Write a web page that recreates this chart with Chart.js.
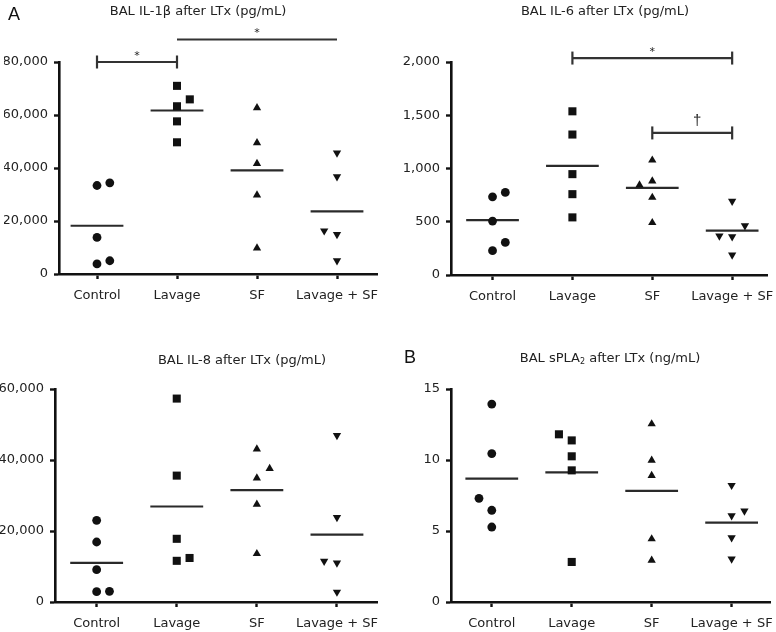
<!DOCTYPE html>
<html>
<head>
<meta charset="utf-8">
<script src="https://cdn.jsdelivr.net/npm/chart.js@4.4.1/dist/chart.umd.min.js"></script>
<style>
  html, body { margin: 0; padding: 0; background: #fff; }
  #wrap { position: relative; width: 776px; height: 632px; overflow: hidden; }
  canvas { position: absolute; left: 0; top: 0; }
  .ttl { position: absolute; font-family: "DejaVu Sans", sans-serif; font-size: 13px; color: #222; white-space: nowrap; transform: translateX(-50%); line-height: 15px; }
  .ttl sub { font-size: 8px; vertical-align: -2px; line-height: 0; }
  .lbl { position: absolute; font-family: "Liberation Sans", Arial, sans-serif; font-size: 18px; color: #111; line-height: 18px; }
</style>
</head>
<body>
<div id="wrap">
  <canvas id="c1" width="776" height="632"></canvas>
  <canvas id="c2" width="776" height="632"></canvas>
  <canvas id="c3" width="776" height="632"></canvas>
  <canvas id="c4" width="776" height="632"></canvas>
  <div class="lbl" style="left:8px;top:5px;">A</div>
  <div class="lbl" style="left:404px;top:348px;">B</div>
  <div class="ttl" style="left:198px;top:3px;">BAL IL-1β after LTx (pg/mL)</div>
  <div class="ttl" style="left:605px;top:3px;">BAL IL-6 after LTx (pg/mL)</div>
  <div class="ttl" style="left:242px;top:352px;">BAL IL-8 after LTx (pg/mL)</div>
  <div class="ttl" style="left:610px;top:350px;">BAL sPLA<sub>2</sub> after LTx (ng/mL)</div>
</div>
<script>
// ---------- categories ----------
const groups = ['Control', 'Lavage', 'SF', 'Lavage + SF'];

// ---------- IL-1β (pg/mL) ----------
const il1bControl = [33400, 34400, 13800, 3800, 5000];
const il1bLavage = [71000, 65900, 63300, 57600, 49700];
const il1bSF = [62700, 49500, 41700, 29800, 9800];
const il1bLavageSF = [45700, 36700, 16300, 14900, 5000];
const il1bMeans = [18200, 61700, 39100, 23600];
const il1bSide = [[0, 1, 0, 0, 1], [0, 1, 0, 0, 0], [0, 0, 0, 0, 0], [0, 0, -1, 0, 0]];
const il1bTicks = [0, 20000, 40000, 60000, 80000];
const il1bBrackets = [[0, 1, 80000, '*'], [1, 3, 88500, '*']];

// ---------- IL-6 (pg/mL) ----------
const il6Control = [734, 775, 506, 306, 228];
const il6Lavage = [1537, 1319, 947, 759, 541];
const il6SF = [1078, 881, 844, 728, 491];
const il6LavageSF = [694, 463, 366, 359, 188];
const il6Means = [516, 1025, 819, 416];
const il6Side = [[0, 1, 0, 1, 0], [0, 0, 0, 0, 0], [0, 0, -1, 0, 0], [0, 1, -1, 0, 0]];
const il6Ticks = [0, 500, 1000, 1500, 2000];
const il6Brackets = [[1, 3, 2037, '*'], [2, 3, 1334, '†']];

// ---------- IL-8 (pg/mL) ----------
const il8Control = [23000, 16900, 9100, 2900, 3000];
const il8Lavage = [57300, 35600, 17800, 12400, 11600];
const il8SF = [43100, 37600, 34900, 27500, 13600];
const il8LavageSF = [46900, 23800, 11500, 11000, 2800];
const il8Means = [11000, 26900, 31500, 19000];
const il8Side = [[0, 0, 0, 0, 1], [0, 0, 0, 1, 0], [0, 1, 0, 0, 0], [0, 0, -1, 0, 0]];
const il8Ticks = [0, 20000, 40000, 60000];
const il8Brackets = [];

// ---------- sPLA2 (ng/mL) ----------
const splaControl = [13.94, 10.45, 7.30, 6.46, 5.28];
const splaLavage = [11.81, 11.38, 10.26, 9.27, 2.82];
const splaSF = [12.54, 9.98, 8.90, 4.44, 2.93];
const splaLavageSF = [8.22, 6.41, 6.08, 4.53, 3.03];
const splaMeans = [8.69, 9.13, 7.82, 5.59];
const splaSide = [[0, 0, -1, 0, 0], [-1, 0, 0, 0, 0], [0, 0, 0, 0, 0], [0, 1, 0, 0, 0]];
const splaTicks = [0, 5, 10, 15];
const splaBrackets = [];

// ---------- styling ----------
const INK = '#111';
const FONT = { family: '"DejaVu Sans", sans-serif', size: 13 };
const JITTER = 0.16;
const MEAN_HALF = 0.33;
const markerStyle = ['circle', 'rect', 'triangle', 'triangle'];
const markerRot = [0, 0, 0, 180];
const markerRadius = [4.4, 5.7, 4.8, 4.8];

const bracketTextPlugin = {
  id: 'bracketText',
  afterDatasetsDraw(chart, args, opts) {
    const { ctx } = chart;
    const xs = chart.scales.x, ys = chart.scales.y;
    (opts.brackets || []).forEach(b => {
      const xm = (xs.getPixelForValue(b[0]) + xs.getPixelForValue(b[1])) / 2;
      const y = ys.getPixelForValue(b[2]);
      ctx.save();
      ctx.fillStyle = '#222';
      ctx.textAlign = 'center';
      ctx.textBaseline = 'alphabetic';
      if (b[3] === '*') {
        ctx.font = '11px "DejaVu Sans", sans-serif';
        ctx.fillText(b[3], xm, y - 3);
      } else {
        ctx.font = '15px "Liberation Sans", sans-serif';
        ctx.fillText(b[3], xm + 5, y - 8);
      }
      ctx.restore();
    });
  }
};

function makePanel(id, area, xMin, xMax, ticks, values, sides, means, brackets) {
  const yw = 55, xh = 30;
  const datasets = [];
  values.forEach((vals, g) => {
    datasets.push({
      type: 'scatter',
      data: vals.map((v, i) => ({ x: g + sides[g][i] * JITTER, y: v })),
      pointStyle: markerStyle[g],
      rotation: markerRot[g],
      pointRadius: markerRadius[g],
      backgroundColor: INK,
      borderColor: INK,
      borderWidth: 0,
      showLine: false,
      clip: false
    });
  });
  means.forEach((m, g) => {
    datasets.push({
      type: 'line',
      data: [{ x: g - MEAN_HALF, y: m }, { x: g + MEAN_HALF, y: m }],
      borderColor: '#2a2a2a',
      borderWidth: 2.2,
      pointRadius: 0,
      showLine: true,
      clip: false
    });
  });
  brackets.forEach(b => {
    datasets.push({
      type: 'line',
      data: [{ x: b[0], y: b[2] }, { x: b[1], y: b[2] }],
      borderColor: '#333',
      borderWidth: 2.2,
      pointStyle: 'line',
      rotation: 90,
      pointRadius: 6.5,
      pointBorderWidth: 2.2,
      pointBorderColor: '#333',
      showLine: true,
      clip: false
    });
  });
  return new Chart(document.getElementById(id), {
    type: 'scatter',
    data: { datasets },
    plugins: [bracketTextPlugin],
    options: {
      responsive: false,
      devicePixelRatio: 1,
      animation: false,
      layout: { padding: { left: area.L - yw, top: area.T, right: 776 - area.R, bottom: 632 - area.B - xh } },
      plugins: { legend: { display: false }, tooltip: { enabled: false }, bracketText: { brackets } },
      scales: {
        x: {
          type: 'linear', min: xMin, max: xMax,
          afterBuildTicks: s => { s.ticks = groups.map((_, i) => ({ value: i })); },
          afterFit: s => { s.height = xh; s.paddingLeft = 0; s.paddingRight = 0; },
          ticks: { callback: v => groups[v], font: FONT, color: '#222', padding: 9, autoSkip: false, maxRotation: 0 },
          grid: { drawOnChartArea: false, drawTicks: true, tickLength: 5, tickWidth: 2.4, tickColor: INK },
          border: { display: true, width: 2.6, color: INK }
        },
        y: {
          min: ticks[0], max: ticks[ticks.length - 1],
          afterBuildTicks: s => { s.ticks = ticks.map(v => ({ value: v })); },
          afterFit: s => { s.width = yw; s.paddingTop = 0; s.paddingBottom = 0; },
          ticks: { callback: v => v.toLocaleString('en-US'), font: FONT, color: '#222', padding: 6 },
          grid: { drawOnChartArea: false, drawTicks: true, tickLength: 5, tickWidth: 2.4, tickColor: INK },
          border: { display: true, width: 2.6, color: INK }
        }
      }
    }
  });
}

makePanel('c1', { L: 59, T: 62, R: 377, B: 274 }, -0.475, 3.5, il1bTicks,
  [il1bControl, il1bLavage, il1bSF, il1bLavageSF], il1bSide, il1bMeans, il1bBrackets);
makePanel('c2', { L: 451, T: 62, R: 768, B: 275 }, -0.52, 3.44, il6Ticks,
  [il6Control, il6Lavage, il6SF, il6LavageSF], il6Side, il6Means, il6Brackets);
makePanel('c3', { L: 55, T: 389, R: 377, B: 602 }, -0.52, 3.5, il8Ticks,
  [il8Control, il8Lavage, il8SF, il8LavageSF], il8Side, il8Means, il8Brackets);
makePanel('c4', { L: 451, T: 389, R: 770, B: 602 }, -0.51, 3.48, splaTicks,
  [splaControl, splaLavage, splaSF, splaLavageSF], splaSide, splaMeans, splaBrackets);
</script>
</body>
</html>
